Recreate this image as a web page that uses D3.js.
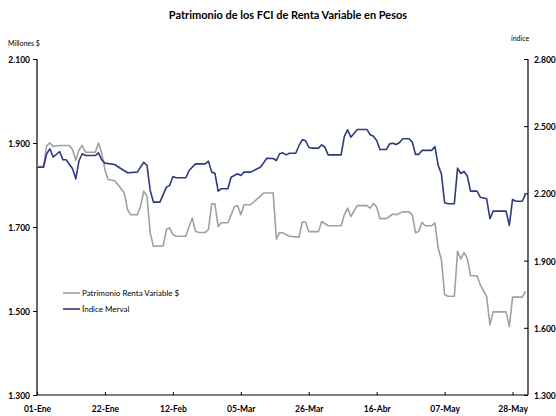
<!DOCTYPE html>
<html>
<head>
<meta charset="utf-8">
<script src="https://cdn.jsdelivr.net/npm/d3@7"></script>
<style>
  body { margin: 0; background: #ffffff; }
  svg { font-family: "Lato", "DejaVu Sans", sans-serif; }
</style>
</head>
<body>
<div id="svgdiv"></div>
<script>
// Datos
var patDates = ["2007-01-01","2007-01-03","2007-01-04","2007-01-05","2007-01-06","2007-01-08","2007-01-11","2007-01-12","2007-01-13","2007-01-14",
  "2007-01-15","2007-01-16","2007-01-19","2007-01-20","2007-01-21","2007-01-22","2007-01-23","2007-01-25","2007-01-26","2007-01-28",
  "2007-01-29","2007-01-30","2007-02-01","2007-02-02","2007-02-03","2007-02-04","2007-02-05","2007-02-06","2007-02-09","2007-02-10",
  "2007-02-11","2007-02-12","2007-02-13","2007-02-16","2007-02-17","2007-02-18","2007-02-19","2007-02-20","2007-02-22","2007-02-23",
  "2007-02-24","2007-02-25","2007-02-26","2007-02-27","2007-03-01","2007-03-03","2007-03-04","2007-03-05","2007-03-06","2007-03-08",
  "2007-03-11","2007-03-12","2007-03-15","2007-03-16","2007-03-17","2007-03-18","2007-03-20","2007-03-23","2007-03-24","2007-03-25",
  "2007-03-26","2007-03-29","2007-03-30","2007-04-01","2007-04-05","2007-04-06","2007-04-07","2007-04-08","2007-04-10","2007-04-13",
  "2007-04-14","2007-04-15","2007-04-16","2007-04-17","2007-04-19","2007-04-21","2007-04-22","2007-04-24","2007-04-26","2007-04-27",
  "2007-04-28","2007-04-29","2007-04-30","2007-05-01","2007-05-03","2007-05-04","2007-05-05","2007-05-06","2007-05-07","2007-05-08",
  "2007-05-10","2007-05-11","2007-05-12","2007-05-13","2007-05-14","2007-05-15","2007-05-17","2007-05-18","2007-05-20","2007-05-21",
  "2007-05-22","2007-05-26","2007-05-27","2007-05-28","2007-05-31","2007-06-01"];
var patValues = [1844,1844,1894,1900,1892,1894,1894,1884,1859,1884,
  1894,1878,1878,1900,1876,1836,1813,1810,1801,1781,
  1741,1729,1729,1749,1785,1773,1686,1654,1655,1694,
  1698,1682,1678,1678,1701,1721,1690,1687,1687,1694,
  1755,1755,1701,1710,1710,1748,1751,1729,1753,1753,
  1773,1781,1781,1671,1687,1686,1678,1676,1712,1712,
  1689,1689,1713,1703,1703,1729,1745,1725,1751,1751,
  1745,1756,1748,1720,1720,1731,1729,1736,1736,1729,
  1686,1690,1711,1703,1703,1710,1650,1622,1539,1535,
  1535,1642,1624,1639,1626,1584,1584,1563,1534,1467,
  1498,1498,1463,1533,1533,1547];

var mervalDates = ["2007-01-01","2007-01-03","2007-01-04","2007-01-05","2007-01-06","2007-01-08","2007-01-09","2007-01-10","2007-01-12","2007-01-13",
  "2007-01-14","2007-01-15","2007-01-16","2007-01-19","2007-01-20","2007-01-21","2007-01-22","2007-01-25","2007-01-27","2007-01-29",
  "2007-02-01","2007-02-03","2007-02-04","2007-02-05","2007-02-06","2007-02-08","2007-02-10","2007-02-11","2007-02-12","2007-02-13",
  "2007-02-16","2007-02-17","2007-02-19","2007-02-22","2007-02-23","2007-02-24","2007-02-25","2007-02-26","2007-02-27","2007-03-01",
  "2007-03-02","2007-03-04","2007-03-05","2007-03-06","2007-03-08","2007-03-11","2007-03-12","2007-03-13","2007-03-15","2007-03-16",
  "2007-03-17","2007-03-18","2007-03-19","2007-03-20","2007-03-22","2007-03-23","2007-03-24","2007-03-25","2007-03-26","2007-03-27",
  "2007-03-29","2007-03-30","2007-03-31","2007-04-01","2007-04-05","2007-04-06","2007-04-07","2007-04-08","2007-04-10","2007-04-13",
  "2007-04-14","2007-04-15","2007-04-16","2007-04-17","2007-04-19","2007-04-20","2007-04-21","2007-04-22","2007-04-23","2007-04-24",
  "2007-04-26","2007-04-27","2007-04-28","2007-04-29","2007-04-30","2007-05-03","2007-05-04","2007-05-05","2007-05-06","2007-05-07",
  "2007-05-08","2007-05-10","2007-05-11","2007-05-12","2007-05-13","2007-05-14","2007-05-15","2007-05-17","2007-05-18","2007-05-20",
  "2007-05-21","2007-05-22","2007-05-26","2007-05-27","2007-05-28","2007-05-29","2007-05-31","2007-06-01"];
var mervalValues = [2317,2317,2377,2399,2362,2387,2350,2350,2310,2265,
  2347,2377,2369,2369,2381,2350,2335,2329,2310,2292,
  2295,2339,2325,2213,2161,2161,2228,2235,2275,2270,
  2270,2302,2332,2332,2344,2295,2290,2210,2221,2221,
  2272,2288,2280,2295,2295,2317,2335,2357,2356,2347,
  2377,2381,2372,2379,2379,2414,2439,2436,2406,2402,
  2402,2417,2406,2372,2372,2455,2484,2451,2485,2485,
  2462,2455,2436,2396,2396,2421,2424,2418,2426,2444,
  2444,2429,2374,2374,2392,2392,2409,2325,2288,2158,
  2154,2154,2313,2289,2298,2278,2210,2210,2183,2176,
  2087,2121,2121,2057,2173,2165,2165,2196];

var leftTicks = [1300, 1500, 1700, 1900, 2100];
var rightTicks = [1300, 1600, 1900, 2200, 2500, 2800];
var dateTicks = ["2007-01-01","2007-01-22","2007-02-12","2007-03-05","2007-03-26","2007-04-16","2007-05-07","2007-05-28"];
var dateLabels = ["01-Ene","22-Ene","12-Feb","05-Mar","26-Mar","16-Abr","07-May","28-May"];

var seriesNames = ["Patrimonio Renta Variable $", "Índice Merval"];
var seriesColors = ["#a0a0a0", "#2c3b7c"];

// Step 1: chart setup
var svgWidth = 556;
var svgHeight = 416;
var margin = { top: 59, right: 28, bottom: 21, left: 37 };
var width = svgWidth - margin.left - margin.right;
var height = svgHeight - margin.top - margin.bottom;

var parseDate = d3.timeParse("%Y-%m-%d");
// miles con punto: 2100 -> "2.100"
var fmtNum = function(v) { return d3.format(",")(v).replace(",", "."); };

var svg = d3.select("#svgdiv")
    .append("svg")
    .attr("width", svgWidth)
    .attr("height", svgHeight);

var chartGroup = svg.append("g")
    .attr("transform", `translate(${margin.left}, ${margin.top})`);

// Step 2: scales
var xScale = d3.scaleTime()
    .domain([parseDate("2007-01-01"), parseDate("2007-06-01")])
    .range([0, width - 2.5]);
var yLeft = d3.scaleLinear().domain([1300, 2100]).range([height, 0]);
var yRight = d3.scaleLinear().domain([1300, 2800]).range([height, 0]);

// Step 3: axes
var leftAxis = d3.axisLeft(yLeft).tickValues(leftTicks).tickSize(4).tickFormat(fmtNum);
var rightAxis = d3.axisRight(yRight).tickValues(rightTicks).tickSize(-4).tickFormat(fmtNum);
var bottomAxis = d3.axisBottom(xScale)
    .tickValues(dateTicks.map(parseDate))
    .tickSize(-3)
    .tickFormat(function(d, i) { return dateLabels[i]; });

var gLeft = chartGroup.append("g").call(leftAxis);
var gRight = chartGroup.append("g").attr("transform", `translate(${width}, 0)`).call(rightAxis);
var gBottom = chartGroup.append("g").attr("transform", `translate(0, ${height})`).call(bottomAxis);

[gLeft, gRight, gBottom].forEach(function(g) {
    g.select(".domain").remove();
    g.selectAll("line").attr("stroke", "#000");
    g.selectAll("text")
        .attr("fill", "#000")
        .attr("font-size", "8.5px")
        .attr("font-weight", "bold")
        .attr("font-family", "Lato, sans-serif");
});
gLeft.selectAll("text").attr("x", -7).attr("dy", "0.45em");
gRight.selectAll("text").attr("x", 6).attr("dy", "0.4em");
gBottom.selectAll("text").attr("y", 11).attr("dy", "0.71em");

// axis lines
chartGroup.append("line").attr("x1", 0).attr("x2", 0).attr("y1", 0).attr("y2", height)
    .attr("stroke", "#000").attr("stroke-width", 1.2);
chartGroup.append("line").attr("x1", width).attr("x2", width).attr("y1", 0).attr("y2", height)
    .attr("stroke", "#000").attr("stroke-width", 1.2);
chartGroup.append("line").attr("x1", 0).attr("x2", width).attr("y1", height).attr("y2", height)
    .attr("stroke", "#000").attr("stroke-width", 1.2);

// Step 4: lines
var patData = patDates.map(function(d, i) { return { date: parseDate(d), value: patValues[i] }; });
var mervalData = mervalDates.map(function(d, i) { return { date: parseDate(d), value: mervalValues[i] }; });

var patLine = d3.line().x(d => xScale(d.date)).y(d => yLeft(d.value));
var mervalLine = d3.line().x(d => xScale(d.date)).y(d => yRight(d.value));

chartGroup.append("path")
    .datum(patData)
    .attr("d", patLine)
    .attr("fill", "none")
    .attr("stroke", seriesColors[0])
    .attr("stroke-width", 1.6)
    .attr("stroke-linejoin", "round");

chartGroup.append("path")
    .datum(mervalData)
    .attr("d", mervalLine)
    .attr("fill", "none")
    .attr("stroke", seriesColors[1])
    .attr("stroke-width", 1.6)
    .attr("stroke-linejoin", "round");

// Step 5: titles
svg.append("text")
    .attr("x", 288)
    .attr("y", 19)
    .attr("text-anchor", "middle")
    .attr("font-size", "11px")
    .attr("font-weight", "bold")
    .text("Patrimonio de los FCI de Renta Variable en Pesos");

svg.append("text")
    .attr("x", 8)
    .attr("y", 46)
    .attr("font-size", "7px")
    .text("Millones $");

svg.append("text")
    .attr("x", 511)
    .attr("y", 41)
    .attr("font-size", "7px")
    .text("índice");

// Step 6: legend
var legend = svg.append("g").attr("transform", "translate(63, 293)");
seriesNames.forEach(function(name, i) {
    var row = legend.append("g").attr("transform", `translate(0, ${i * 16})`);
    row.append("line")
        .attr("x1", 0).attr("x2", 17)
        .attr("y1", 0).attr("y2", 0)
        .attr("stroke", seriesColors[i])
        .attr("stroke-width", 1.6);
    row.append("text")
        .attr("x", 19)
        .attr("y", 3)
        .attr("font-size", "8px")
        .text(name);
});
</script>
</body>
</html>
